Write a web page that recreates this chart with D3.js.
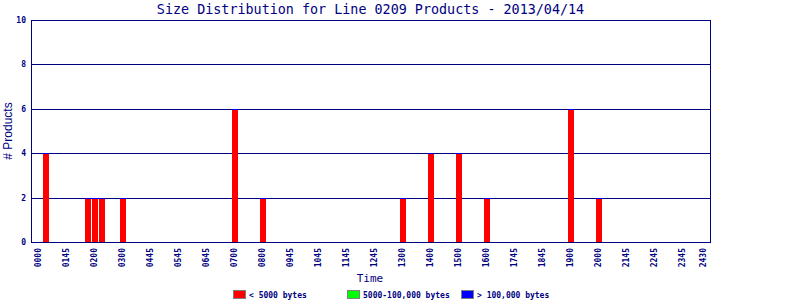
<!DOCTYPE html>
<html><head><meta charset="utf-8">
<script src="https://cdn.jsdelivr.net/npm/d3@7"></script>
<style>body{margin:0;background:#fff}svg{display:block}</style>
</head><body>
<script>
const titleText = "Size Distribution for Line 0209 Products - 2013/04/14";
const binTimes = ["0015","0145","0200","0215","0300","0700","0800","1300","1400","1500","1600","1900","2000"];
const small  = [4,2,2,2,2,6,2,2,4,4,2,6,2];
const medium = [0,0,0,0,0,0,0,0,0,0,0,0,0];
const large  = [0,0,0,0,0,0,0,0,0,0,0,0,0];
const tickHours  = [0,1,2,3,4,5,6,7,8,9,10,11,12,13,14,15,16,17,18,19,20,21,22,23,23.75];
const tickLabels = ["0000","0145","0200","0300","0445","0545","0645","0700","0800","0945","1045","1145","1245","1300","1400","1500","1600","1745","1845","1900","2000","2145","2245","2345","2430"];
const yTicks = [0,2,4,6,8,10];
const legendLabels = ["< 5000 bytes","5000-100,000 bytes","> 100,000 bytes"];
const seriesColors = ["#ff0000","#00ff00","#0000ff"];

const W=800,H=300, navy="#000080";
const svg=d3.select("body").append("svg").attr("width",W).attr("height",H);
const x=d3.scaleLinear().domain([-0.25,24]).range([31,710]);
const y=d3.scaleLinear().domain([0,10]).range([242,20]);
const hr=t=>+t.slice(0,2)+ +t.slice(2)/60;
const mono="'DejaVu Sans Mono', monospace";

// gridlines
svg.append("g").selectAll("line").data(yTicks.filter(v=>v>0&&v<10)).join("line")
  .attr("x1",31).attr("x2",710).attr("y1",d=>Math.round(y(d))+0.5).attr("y2",d=>Math.round(y(d))+0.5)
  .attr("stroke",navy).attr("stroke-width",1);

// bars (stacked)
const g=svg.append("g");
binTimes.forEach((t,i)=>{
  const x0=Math.round(x(hr(t)))-2;
  let base=0;
  [small[i],medium[i],large[i]].forEach((v,s)=>{
    const top=base+v;
    const yt=Math.round(y(top)), yb=Math.round(y(base));
    g.append("rect").attr("x",x0).attr("width",6)
      .attr("y",yt).attr("height",Math.max(1,yb-yt))
      .attr("fill",seriesColors[s]).attr("shape-rendering","crispEdges");
    base=top;
  });
});

// frame
svg.append("rect").attr("x",31.5).attr("y",20.5).attr("width",679).attr("height",222)
  .attr("fill","none").attr("stroke",navy).attr("stroke-width",1);

// y tick labels
svg.append("g").selectAll("text").data(yTicks).join("text")
  .attr("x",26).attr("y",d=>y(d)+3).attr("text-anchor","end")
  .attr("font-family",mono).attr("font-weight","bold").attr("font-size",8).attr("fill",navy)
  .text(d=>d);

// x tick labels
svg.append("g").selectAll("text").data(tickHours).join("text")
  .attr("transform",d=>`translate(${x(d)+3},248) rotate(-90)`)
  .attr("text-anchor","end")
  .attr("font-family",mono).attr("font-weight","bold").attr("font-size",8).attr("fill",navy)
  .text((d,i)=>tickLabels[i]);

// title
svg.append("text").attr("x",370.5).attr("y",14).attr("text-anchor","middle")
  .attr("font-family",mono).attr("font-size",13.4).attr("fill",navy).text(titleText);

// axis titles
svg.append("text").attr("x",370).attr("y",282).attr("text-anchor","middle")
  .attr("font-family",mono).attr("font-size",11).attr("fill",navy).text("Time");
svg.append("text").attr("transform","translate(12,131) rotate(-90)").attr("text-anchor","middle")
  .attr("font-family","'Liberation Sans', Arial, sans-serif").attr("font-size",12).attr("fill",navy).text("# Products");

// legend
const lx=[233,347,461];
legendLabels.forEach((l,i)=>{
  svg.append("rect").attr("x",lx[i]+0.5).attr("y",290.5).attr("width",12).attr("height",8)
    .attr("fill",seriesColors[i]).attr("stroke","#808080").attr("stroke-width",1);
  svg.append("text").attr("x",lx[i]+16).attr("y",298)
    .attr("font-family",mono).attr("font-weight","bold").attr("font-size",8).attr("fill",navy).text(l);
});
</script>
</body></html>
